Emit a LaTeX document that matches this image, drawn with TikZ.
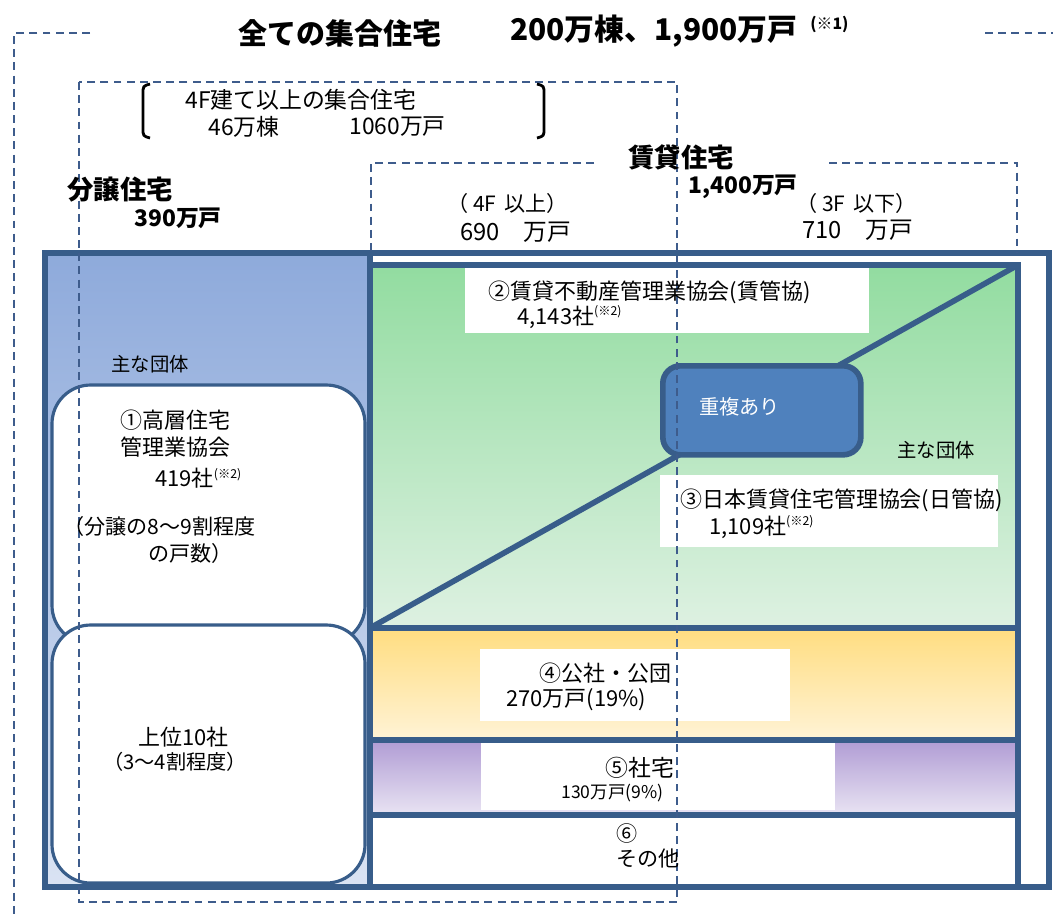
\documentclass[tikz,border=0pt]{standalone}
\usepackage{fontspec}
\setmainfont{Noto Sans CJK JP}
\usepackage{tikz}
\usetikzlibrary{arrows.meta}

\definecolor{bdr}{RGB}{56,93,138}
\definecolor{dsh}{RGB}{62,92,140}
\definecolor{coltop}{RGB}{142,170,219}
\definecolor{colbot}{RGB}{218,227,243}
\definecolor{grtop}{RGB}{146,220,160}
\definecolor{grbot}{RGB}{222,241,226}
\definecolor{yetop}{RGB}{255,221,128}
\definecolor{yebot}{RGB}{255,243,214}
\definecolor{putop}{RGB}{176,156,212}
\definecolor{pubot}{RGB}{233,228,243}
\definecolor{dupl}{RGB}{79,129,189}

\newcommand{\fs}[1]{\fontsize{#1}{#1}\selectfont}
\newcommand{\kome}[1]{\raisebox{0.7ex}{\fs{7}(※#1)}}

\begin{document}
\begin{tikzpicture}[
  x=0.02cm, y=-0.02cm,
  dline/.style={draw=dsh, line width=1.4pt, dash pattern=on 4.5pt off 3pt},
  frame/.style={draw=bdr, line width=3.2pt},
  wbox/.style={fill=white, inner sep=0pt},
  rbox/.style={draw=bdr, line width=1.8pt, fill=white, rounded corners=22pt},
  txt/.style={anchor=west, inner sep=0pt, font=\fs{12.5}},
  btxt/.style={anchor=west, inner sep=0pt, font=\bfseries\fs{15}}
]
\useasboundingbox (0,0) rectangle (1053,917);

% all apartments (dashed frame)
\draw[dline] (90,33) -- (14,33) -- (14,917);
\draw[dline] (985,33) -- (1053,33);

% coloured areas
\fill[top color=coltop, bottom color=colbot] (45,253) rectangle (370,887);
\fill[top color=grtop, bottom color=grbot] (370,265) rectangle (1018,628);
\fill[top color=yetop, bottom color=yebot] (370,628) rectangle (1018,740);
\fill[top color=putop, bottom color=pubot] (370,740) rectangle (1018,815);

% white label boxes
\node[wbox, minimum width=404*0.02cm, minimum height=66*0.02cm, anchor=north west] (b2) at (465,267) {};
\node[wbox, minimum width=338*0.02cm, minimum height=72*0.02cm, anchor=north west] (b3) at (660,475) {};
\node[wbox, minimum width=310*0.02cm, minimum height=72*0.02cm, anchor=north west] (b4) at (480,649) {};
\node[wbox, minimum width=354*0.02cm, minimum height=67*0.02cm, anchor=north west] (b5) at (481,743) {};

% owned side groups
\draw[rbox] (52,385) rectangle (365,644);
\draw[rbox] (52,625) rectangle (365,883);

% frames
\draw[frame] (45,253) rectangle (1049,887);
\draw[frame] (370,253) -- (370,887);
\draw[frame] (370,265) rectangle (1018,887);
\draw[frame] (370,628) -- (1018,628);
\draw[frame] (370,740) -- (1018,740);
\draw[frame] (370,815) -- (1018,815);

% overlap line and box
\coordinate (gl) at (370,628);
\coordinate (gr) at (1018,265);
\draw[draw=bdr, line width=3.2pt] (gl) -- (gr);
\node[draw=bdr, line width=3.2pt, fill=dupl, rounded corners=10pt,
  minimum width=198*0.02cm, minimum height=89*0.02cm, anchor=north west] (dup) at (660,363) {};
\node[anchor=west, inner sep=0pt, text=white, font=\fs{11.5}] (duptxt) at (699,407) {重複あり};

% 4F and above (dashed)
\draw[dline] (79,82) rectangle (677,902);
% rental (dashed)
\draw[dline] (594,163) -- (371,163) -- (371,253);
\draw[dline] (829,163) -- (1017,163) -- (1017,253);

% bracket
\draw[line width=1.6pt] (150,84) .. controls (143,86) .. (143,94) -- (143,128) .. controls (143,136) .. (150,138);
\draw[line width=1.6pt] (537,84) .. controls (544,86) .. (544,94) -- (544,128) .. controls (544,136) .. (537,138);

% headings
\node[btxt, font=\bfseries\fs{16.5}] (all) at (238,33) {全ての集合住宅};
\node[btxt, font=\bfseries\fs{17}] (allnum) at (510,31) {200万棟、1,900万戸};
\node[txt, font=\bfseries\fs{9}] (allnote) at (810,24) {(※1)};
\node[txt, font=\fs{13}] (hi1) at (185,100) {4F建て以上の集合住宅};
\node[txt, font=\fs{13}] (hi2) at (208,127) {46万棟};
\node[txt, font=\fs{13}] (hi3) at (349,127) {1060万戸};
\node[btxt] (rent) at (628,157) {賃貸住宅};
\node[btxt, font=\bfseries\fs{13}] (rentnum) at (688,187) {1,400万戸};
\node[btxt] (own) at (67,190) {分譲住宅};
\node[btxt, font=\bfseries\fs{13}] (ownnum) at (134,218) {390万戸};
\node[txt, font=\fs{12}] (up4) at (447,203) {（ 4F\, 以上）};
\node[txt, font=\fs{13.5}] (up4num) at (460,232) {690\quad 万戸};
\node[txt, font=\fs{12}] (lo3) at (796,203) {（ 3F\, 以下）};
\node[txt, font=\fs{13.5}] (lo3num) at (802,230) {710\quad 万戸};

% owned side texts
\node[txt, font=\fs{11}] (maj1) at (111,364) {主な団体};
\node[txt] (g1a) at (120,420) {①高層住宅};
\node[txt] (g1b) at (120,447) {管理業協会};
\node[txt] (g1c) at (155,478) {419社\kome{2}};
\node[txt, font=\fs{12}] (g1d) at (63,526) {（分譲の8～9割程度};
\node[txt, font=\fs{12}] (g1e) at (148,553) {の戸数）};
\node[txt] (top1) at (138,737) {上位10社};
\node[txt, font=\fs{11.5}] (top2) at (103,762) {（3～4割程度）};

% rental side texts
\node[txt] (g2a) at (488,292) {②賃貸不動産管理業協会(賃管協)};
\node[txt] (g2b) at (517,317) {4,143社\kome{2}};
\node[txt, font=\fs{11}] (maj2) at (897,450) {主な団体};
\node[txt] (g3a) at (680,500) {③日本賃貸住宅管理協会(日管協)};
\node[txt] (g3b) at (709,527) {1,109社\kome{2}};
\node[txt] (g4a) at (539,673) {④公社・公団};
\node[txt] (g4b) at (506,700) {270万戸(19\%)};
\node[txt, font=\fs{13}] (g5a) at (605,768) {⑤社宅};
\node[txt, font=\fs{10}] (g5b) at (561,793) {130万戸(9\%)};
\node[txt, font=\fs{12}] (g6a) at (616,833) {⑥};
\node[txt, font=\fs{12}] (g6b) at (616,858) {その他};
\end{tikzpicture}
\end{document}
